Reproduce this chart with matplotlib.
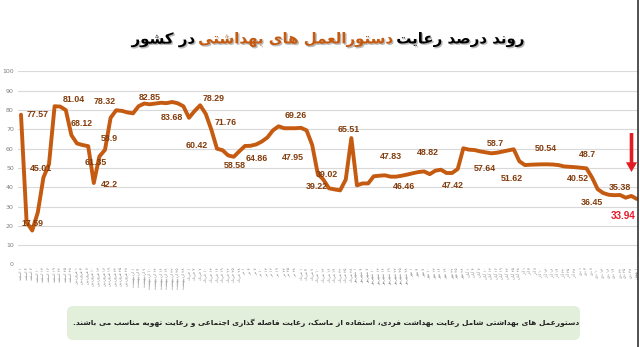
import matplotlib
matplotlib.use("Agg")
import matplotlib.pyplot as plt
import matplotlib.patheffects as pe
from matplotlib.patches import FancyBboxPatch
from matplotlib.lines import Line2D

# درصد رعایت دستورالعمل های بهداشتی (خوانده شده از تصویر)
values = [77.6, 22, 17.6, 27, 45.0, 52, 82, 81.8, 80, 67,
          62.7, 61.9, 61.3, 42.2, 56, 59.4, 76, 79.9, 79.6, 78.8,
          78.3, 82, 83.4, 83, 83.4, 83.8, 83.6, 84.2, 83.5, 82,
          76, 79.5, 82.5, 78, 69.8, 60, 59.2, 56.5, 55.8, 58.7,
          61.4, 61.5, 62.2, 63.7, 65.8, 69.5, 71.6, 70.6, 70.6, 70.6,
          70.8, 69.5, 62, 47, 44, 39.5, 38.9, 38.4, 44, 65.5,
          41, 42, 42, 45.7, 46, 46.2, 45.5, 45.5, 46, 46.6,
          47.3, 47.9, 48.2, 46.8, 48.6, 49.1, 47.4, 47.4, 49.5, 60.2,
          59.5, 59.3, 58.6, 58.1, 57.6, 57.9, 58.5, 59.1, 59.7, 53.5,
          51.5, 51.7, 51.8, 51.9, 51.9, 51.8, 51.5, 50.8, 50.6, 50.4,
          50.1, 49.8, 45, 39, 37, 36.1, 35.9, 36, 34.6, 35.5,
          33.94]

months = ['اسفند', 'فروردین', 'اردیبهشت', 'خرداد', 'تیر', 'مرداد',
          'شهریور', 'مهر', 'آبان', 'آذر', 'دی', 'بهمن']
days = ['۱', '۴', '۷', '۱۰', '۱۳', '۱۶', '۱۹', '۲۲', '۲۵', '۲۸']

# برچسب های داده: اندیس نقطه، متن
label_idx = [0, 2, 4, 8, 9, 12, 13, 15, 17, 23, 27, 32, 34, 35, 38, 42, 48, 49,
             55, 54, 59, 66, 68, 72, 77, 83, 85, 88, 94, 101, 100, 104, 107]
label_txt = ['77.57', '17.59', '45.01', '81.04', '68.12', '61.35', '42.2', '58.9',
             '78.32', '82.85', '83.68', '78.29', '71.76', '60.42', '58.58', '64.86',
             '47.95', '69.26', '39.02', '39.22', '65.51', '47.83', '46.46', '48.82',
             '47.42', '57.64', '58.7', '51.62', '50.54', '48.7', '40.52', '36.45',
             '35.38']
# جابجایی برچسب ها نسبت به نقطه (پیکسل)
label_off = [(17, 0), (0, 7), (-2, 9), (8, 11), (10, 12), (8, -16), (16, -1), (4, 11),
             (-12, 9), (0, 7), (0, -16), (13, 7), (14, 7), (-20, 3), (1, -9), (1, -14),
             (3, -29), (0, 13), (-2, 14), (-7, -7), (-3, 9), (0, 20), (2, -11), (4, 19),
             (1, -12), (-1, -16), (-2, 9), (-2, -29), (-1, 16), (1, 14), (-3, -11),
             (-11, -9), (0, 8)]

title_right = 'روند درصد رعایت'
title_mid = 'دستورالعمل های بهداشتی'
title_left = 'در کشور'
note = ('دستورعمل های بهداشتی شامل رعایت بهداشت فردی، استفاده از ماسک، '
        'رعایت فاصله گذاری اجتماعی و رعایت تهویه مناسب می باشند.')

# شکل دادن حروف فارسی (matplotlib خودش این کار را نمی کند)
FORMS = {
    'ا': ('\uFE8D', '\uFE8E', None, None), 'آ': ('\uFE81', '\uFE82', None, None),
    'ب': ('\uFE8F', '\uFE90', '\uFE91', '\uFE92'), 'پ': ('\uFB56', '\uFB57', '\uFB58', '\uFB59'),
    'ت': ('\uFE95', '\uFE96', '\uFE97', '\uFE98'), 'ج': ('\uFE9D', '\uFE9E', '\uFE9F', '\uFEA0'),
    'ح': ('\uFEA1', '\uFEA2', '\uFEA3', '\uFEA4'), 'خ': ('\uFEA5', '\uFEA6', '\uFEA7', '\uFEA8'),
    'د': ('\uFEA9', '\uFEAA', None, None), 'ذ': ('\uFEAB', '\uFEAC', None, None),
    'ر': ('\uFEAD', '\uFEAE', None, None), 'ز': ('\uFEAF', '\uFEB0', None, None),
    'ژ': ('\uFB8A', '\uFB8B', None, None),
    'س': ('\uFEB1', '\uFEB2', '\uFEB3', '\uFEB4'), 'ش': ('\uFEB5', '\uFEB6', '\uFEB7', '\uFEB8'),
    'ص': ('\uFEB9', '\uFEBA', '\uFEBB', '\uFEBC'), 'ع': ('\uFEC9', '\uFECA', '\uFECB', '\uFECC'),
    'ف': ('\uFED1', '\uFED2', '\uFED3', '\uFED4'), 'ق': ('\uFED5', '\uFED6', '\uFED7', '\uFED8'),
    'ک': ('\uFB8E', '\uFB8F', '\uFB90', '\uFB91'), 'گ': ('\uFB92', '\uFB93', '\uFB94', '\uFB95'),
    'ل': ('\uFEDD', '\uFEDE', '\uFEDF', '\uFEE0'), 'م': ('\uFEE1', '\uFEE2', '\uFEE3', '\uFEE4'),
    'ن': ('\uFEE5', '\uFEE6', '\uFEE7', '\uFEE8'), 'ه': ('\uFEE9', '\uFEEA', '\uFEEB', '\uFEEC'),
    'و': ('\uFEED', '\uFEEE', None, None), 'ی': ('\uFBFC', '\uFBFD', '\uFBFE', '\uFBFF'),
}


def shape_word(w):
    out = []
    for k, ch in enumerate(w):
        if ch not in FORMS:
            out.append(ch)
            continue
        prev = w[k - 1] if k > 0 else None
        nxt = w[k + 1] if k < len(w) - 1 else None
        jp = prev in FORMS and FORMS[prev][2] is not None
        jn = nxt in FORMS and FORMS[ch][2] is not None
        iso, fin, ini, med = FORMS[ch]
        out.append(med if jp and jn else fin if jp else ini if jn else iso)
    return ''.join(out)


def fa(text):
    vis = []
    for w in text.split(' '):
        if any(ch in FORMS for ch in w):
            vis.append(shape_word(w)[::-1])
        else:
            vis.append(w)
    return ' '.join(vis[::-1])


plt.rcParams['font.family'] = ['DejaVu Sans']

fig = plt.figure(figsize=(6.4, 3.47), dpi=100)
ax = fig.add_axes([0.0281, 0.2378, 0.9688, 0.5562])

x = list(range(len(values)))
ax.plot(x, values, color='#C55A11', linewidth=2.8, solid_joinstyle='round',
        solid_capstyle='round', zorder=3)

ax.set_ylim(0, 100)
ax.set_xlim(-0.54, 110.2)
ax.set_yticks(range(0, 101, 10))
ax.grid(axis='y', color='#D9D9D9', linewidth=0.8)
ax.set_axisbelow(True)
for s in ax.spines.values():
    s.set_visible(False)
ax.tick_params(length=0)
ax.tick_params(axis='y', labelsize=4.5, labelcolor='#7F7F7F', pad=3)

xlabels = [fa(d + ' ' + m) for m in months for d in days][:len(values)]
ax.set_xticks(x)
ax.set_xticklabels(xlabels, rotation=90, fontsize=2.8, color='#7F7F7F')
ax.tick_params(axis='x', pad=2)

for i, t, (dx, dy) in zip(label_idx, label_txt, label_off):
    ax.annotate(t, (i, values[i]), xytext=(dx, dy), textcoords='offset pixels',
                ha='center', va='center', fontsize=6.4, fontweight='bold',
                color='#843C0C', family=['Liberation Sans', 'DejaVu Sans'], zorder=4)

# آخرین مقدار با رنگ قرمز
last = len(values) - 1
ax.annotate(f'{values[-1]:.2f}', (last, values[-1]),
            xytext=(-14, -17), textcoords='offset pixels', ha='center', va='center',
            fontsize=7.2, fontweight='bold', color='#E8192C',
            family=['Liberation Sans', 'DejaVu Sans'], zorder=4)
ax.annotate('', xy=(631.5, 175), xytext=(631.5, 214), xycoords='figure pixels',
            textcoords='figure pixels',
            arrowprops=dict(width=2.6, headwidth=8, headlength=7, color='#E31B23', lw=0))

# عنوان سه رنگی
shadow = [pe.withSimplePatchShadow(offset=(1.0, -1.0), shadow_rgbFace='#9E9E9E', alpha=0.7)]
ty = 0.885
parts = [(title_left, 'black'), (title_mid, '#C55A11'), (title_right, 'black')]
texts = [fig.text(0, ty, fa(s), fontsize=10.8, fontweight='bold', color=c,
                  ha='left', va='center', path_effects=shadow) for s, c in parts]
fig.canvas.draw()
r = fig.canvas.get_renderer()
gap = 3
widths = [t.get_window_extent(r).width for t in texts]
xpos = 328 - (sum(widths) + gap * (len(texts) - 1)) / 2
for t, w in zip(texts, widths):
    t.set_position((xpos / fig.bbox.width, ty))
    xpos += w + gap

# کادر توضیحات
box = FancyBboxPatch((67, 7), 513, 34, boxstyle='round,pad=0,rounding_size=6',
                     transform=None, facecolor='#E2EFDA', edgecolor='none')
fig.patches.append(box)
fig.text(326 / 640, 24 / 347, fa(note), fontsize=5.4, fontweight='bold', color='#222222',
         ha='center', va='center')

# خط کناری تصویر
fig.add_artist(Line2D([0.9975, 0.9975], [0, 1], transform=fig.transFigure,
                      color='#333333', linewidth=1.2))

fig.savefig('out.png', dpi=100)
